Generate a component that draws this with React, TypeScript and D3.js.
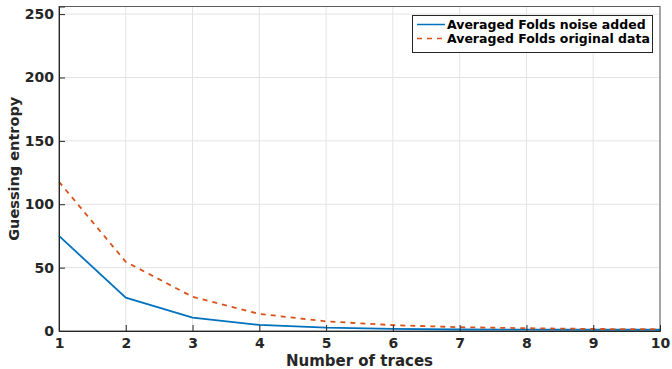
import { useRef, useEffect } from 'react';
import * as d3 from 'd3';

const traces = [1, 2, 3, 4, 5, 6, 7, 8, 9, 10];
const noiseAdded = [75, 26.3, 10.5, 4.8, 2.6, 1.6, 1.2, 1.1, 1.0, 1.0];
const originalData = [117.7, 54.6, 27, 13.5, 7.6, 4.6, 3.0, 2.2, 1.6, 1.4];
const xTicks = [1, 2, 3, 4, 5, 6, 7, 8, 9, 10];
const yTicks = [0, 50, 100, 150, 200, 250];
const seriesNames = ['Averaged Folds noise added', 'Averaged Folds original data'];

export default function App() {
  const svgRef = useRef<SVGSVGElement>(null);

  useEffect(() => {
    const width = 672;
    const height = 369;
    const margin = { top: 6.5, right: 12, bottom: 38, left: 59 };
    const font = 'DejaVu Sans, sans-serif';
    const axisColor = '#262626';

    const svg = d3.select(svgRef.current);
    svg.selectAll('*').remove();
    svg.attr('width', width).attr('height', height);

    const x = d3.scaleLinear().domain([1, 10]).range([margin.left, width - margin.right]);
    const y = d3.scaleLinear().domain([0, 256]).range([height - margin.bottom, margin.top]);

    // grid
    const grid = svg.append('g');
    grid.selectAll('.gx').data(xTicks).join('line')
      .attr('x1', d => x(d)).attr('x2', d => x(d))
      .attr('y1', y(0)).attr('y2', y(256))
      .attr('stroke', '#e3e3e3').attr('stroke-width', 1);
    grid.selectAll('.gy').data(yTicks).join('line')
      .attr('x1', x(1)).attr('x2', x(10))
      .attr('y1', d => y(d)).attr('y2', d => y(d))
      .attr('stroke', '#e3e3e3').attr('stroke-width', 1);

    const line = d3.line<number>().x((_, i) => x(traces[i])).y(d => y(d));

    svg.append('path').datum(noiseAdded)
      .attr('d', line).attr('fill', 'none')
      .attr('stroke', '#0072BD').attr('stroke-width', 1.8);
    svg.append('path').datum(originalData)
      .attr('d', line).attr('fill', 'none')
      .attr('stroke', '#D95319').attr('stroke-width', 1.8)
      .attr('stroke-dasharray', '5,5');

    // box
    svg.append('rect')
      .attr('x', x(1)).attr('y', y(256))
      .attr('width', x(10) - x(1)).attr('height', y(0) - y(256))
      .attr('fill', 'none').attr('stroke', axisColor).attr('stroke-opacity', 0.75).attr('stroke-width', 1);

    const xAxis = d3.axisBottom(x).tickValues(xTicks).tickSize(-6).tickPadding(7).tickFormat(d3.format('d'));
    const gx = svg.append('g').attr('transform', `translate(0,${y(0)})`).call(xAxis);
    const yAxis = d3.axisLeft(y).tickValues(yTicks).tickSize(-6).tickPadding(5).tickFormat(d3.format('d'));
    const gy = svg.append('g').attr('transform', `translate(${x(1)},0)`).call(yAxis);
    [gx, gy].forEach(g => {
      g.select('.domain').attr('stroke', axisColor);
      g.selectAll('.tick line').attr('stroke', axisColor);
      g.selectAll('.tick text')
        .attr('fill', axisColor).attr('font-family', font)
        .attr('font-weight', 'bold').attr('font-size', 14);
    });

    svg.append('text')
      .attr('x', (x(1) + x(10)) / 2).attr('y', 366)
      .attr('text-anchor', 'middle').attr('font-family', font)
      .attr('font-weight', 'bold').attr('font-size', 15).attr('fill', axisColor)
      .text('Number of traces');
    svg.append('text')
      .attr('transform', `translate(19,${(y(0) + y(256)) / 2}) rotate(-90)`)
      .attr('text-anchor', 'middle').attr('font-family', font)
      .attr('font-weight', 'bold').attr('font-size', 14.5).attr('fill', axisColor)
      .text('Guessing entropy');

    // legend
    const lg = svg.append('g');
    lg.append('rect')
      .attr('x', 412.5).attr('y', 15.5).attr('width', 240).attr('height', 37)
      .attr('fill', 'white').attr('stroke', axisColor).attr('stroke-width', 1);
    const colors = ['#0072BD', '#D95319'];
    seriesNames.forEach((name, i) => {
      const yy = 24.5 + i * 14;
      lg.append('line')
        .attr('x1', 417).attr('x2', 445).attr('y1', yy).attr('y2', yy)
        .attr('stroke', colors[i]).attr('stroke-width', 1.5)
        .attr('stroke-dasharray', i === 1 ? '5,5' : null);
      lg.append('text')
        .attr('x', 447).attr('y', yy + 4.5)
        .attr('font-family', font).attr('font-weight', 'bold').attr('font-size', 12.5)
        .attr('fill', 'black')
        .text(name);
    });
  }, []);

  return <svg ref={svgRef} style={{ position: 'absolute', left: 0, top: 0 }}></svg>;
}
